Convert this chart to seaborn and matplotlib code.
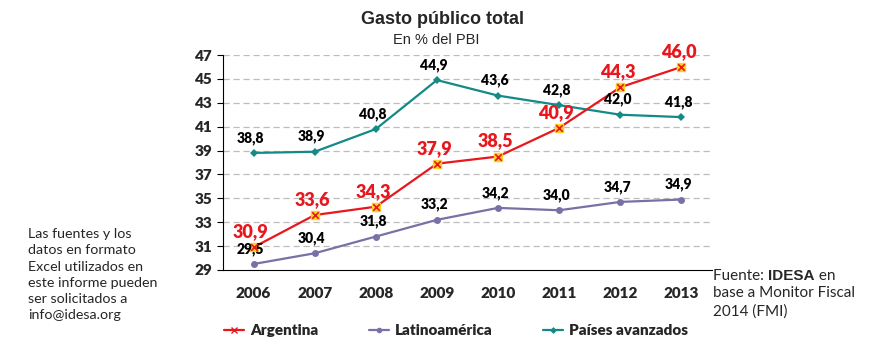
import numpy as np
import pandas as pd
import seaborn as sns
import matplotlib.pyplot as plt
from matplotlib.lines import Line2D

sns.set_style("white")
plt.rcParams['font.family'] = ['Lato', 'DejaVu Sans']

years = ['2006', '2007', '2008', '2009', '2010', '2011', '2012', '2013']
argentina = [30.9, 33.6, 34.3, 37.9, 38.5, 40.9, 44.3, 46.0]
latam = [29.5, 30.4, 31.8, 33.2, 34.2, 34.0, 34.7, 34.9]
avanzados = [38.8, 38.9, 40.8, 44.9, 43.6, 42.8, 42.0, 41.8]

c_arg = '#E8161D'
c_lat = '#7A70A6'
c_ava = '#138A86'

df = pd.DataFrame({'pos': range(len(years)), 'Argentina': argentina,
                   'Latinoamérica': latam, 'Países avanzados': avanzados})

fig = plt.figure(figsize=(8.72, 3.51), dpi=100)
ax = fig.add_axes([0.2557, 0.2308, 0.5608, 0.6125])

sns.lineplot(data=df, x='pos', y='Latinoamérica', color=c_lat, marker='o',
             markersize=5, markeredgewidth=0, linewidth=1.6, ax=ax)
sns.lineplot(data=df, x='pos', y='Países avanzados', color=c_ava, marker='D',
             markersize=4.5, markeredgewidth=0, linewidth=1.6, ax=ax)
sns.lineplot(data=df, x='pos', y='Argentina', color=c_arg, linewidth=1.6, ax=ax)
ax.scatter(df['pos'], df['Argentina'], marker='s', s=32, color='#FFD21F', zorder=3)
ax.scatter(df['pos'], df['Argentina'], marker='x', s=22, color=c_arg, linewidths=1.2, zorder=4)

# data labels
for i in range(len(years)):
    ax.annotate(f"{latam[i]:.1f}".replace('.', ','), (i, latam[i]), xytext=(-2, 6),
                textcoords='offset points', ha='center', va='bottom',
                fontsize=10, fontweight='heavy', color='black')
    ax.annotate(f"{avanzados[i]:.1f}".replace('.', ','), (i, avanzados[i]), xytext=(-2, 6),
                textcoords='offset points', ha='center', va='bottom',
                fontsize=10, fontweight='heavy', color='black')
    ax.annotate(f"{argentina[i]:.1f}".replace('.', ','), (i, argentina[i]), xytext=(-2, 5),
                textcoords='offset points', ha='center', va='bottom',
                fontsize=13, fontweight='heavy', color=c_arg)

ax.set_xlim(-0.5, 7.5)
ax.set_ylim(29, 47)
ax.set_yticks(np.arange(29, 48, 2))
ax.set_xticks(range(len(years)))
ax.set_xticklabels(years)
ax.set_xticks(np.arange(-0.5, 8, 1), minor=True)
ax.tick_params(axis='x', which='major', length=0, pad=12)
ax.tick_params(axis='x', which='minor', length=5, direction='out', color='black')
ax.tick_params(axis='y', length=4, direction='out', color='black', left=True)
for lab in ax.get_xticklabels() + ax.get_yticklabels():
    lab.set_fontweight('heavy')
    lab.set_fontsize(11)
ax.set_xlabel('')
ax.set_ylabel('')
for y in np.arange(31, 48, 2):
    ax.axhline(y, color='#BDBDBD', linestyle=(0, (5, 3)), linewidth=0.9, zorder=0)
sns.despine(ax=ax, top=True, right=True)
ax.spines['left'].set_color('black')
ax.spines['bottom'].set_color('black')

fig.text(0.508, 0.945, 'Gasto público total', ha='center', va='center',
         fontsize=13, fontweight='bold', family='Liberation Sans')
fig.text(0.5, 0.885, 'En % del PBI', ha='center', va='center',
         fontsize=10.5, family='Liberation Sans')

fig.text(0.032, 0.35, "Las fuentes y los\ndatos en formato\nExcel utilizados en\neste informe pueden\nser solicitados a\ninfo@idesa.org",
         ha='left', va='top', fontsize=10.3, linespacing=1.42)

# source text with bold word
fig.canvas.draw()
r = fig.canvas.get_renderer()
t1 = fig.text(0.818, 0.215, 'Fuente: ', ha='left', va='center', fontsize=11)
bb = t1.get_window_extent(r).transformed(fig.transFigure.inverted())
t2 = fig.text(bb.x1, 0.215, 'IDESA', ha='left', va='center', fontsize=11,
              fontweight='heavy', family='Liberation Sans')
bb2 = t2.get_window_extent(r).transformed(fig.transFigure.inverted())
fig.text(bb2.x1, 0.215, ' en', ha='left', va='center', fontsize=11)
fig.text(0.818, 0.185, 'base a Monitor Fiscal\n2014 (FMI)', ha='left', va='top',
         fontsize=11, linespacing=1.4)

handles = [
    (Line2D([], [], color=c_arg, linewidth=1.6, marker='x', markersize=5,
            markeredgecolor=c_arg, markerfacecolor='#FFD21F')),
    Line2D([], [], color=c_lat, linewidth=1.6, marker='o', markersize=4, markeredgewidth=0),
    Line2D([], [], color=c_ava, linewidth=1.6, marker='D', markersize=3.5, markeredgewidth=0),
]
leg = fig.legend(handles, ['Argentina', 'Latinoamérica', 'Países avanzados'],
                 loc='center', bbox_to_anchor=(0.523, 0.058), ncol=3, frameon=False,
                 handlelength=1.3, handletextpad=0.4, columnspacing=3.3,
                 prop={'weight': 'heavy', 'size': 11})

fig.savefig('out.png', dpi=100)
